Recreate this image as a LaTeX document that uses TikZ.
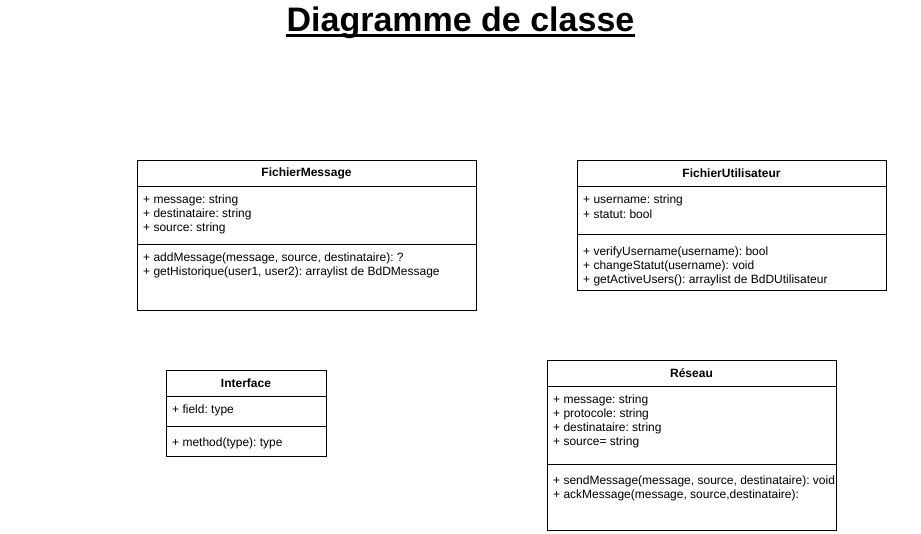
\documentclass[tikz,border=0pt]{standalone}
\usepackage{fontspec}
\setmainfont{Liberation Sans}
\frenchspacing
\begin{document}
\begin{tikzpicture}[x=1pt,y=-1pt,
  classbox/.style={draw=black, line width=1pt, inner sep=0, outer sep=0, rectangle},
  sep/.style={draw=black, line width=1pt},
  cname/.style={font=\fontsize{12}{14}\selectfont\bfseries, inner sep=0, anchor=center},
  member/.style={font=\fontsize{12}{14}\selectfont, inner sep=0, anchor=west},
  titletext/.style={font=\fontsize{34}{40}\selectfont\bfseries, inner sep=0, anchor=base},
  uline/.style={draw=black, line width=2.6pt}]
\useasboundingbox (0,0) rectangle (921,533);

% Title
\node[titletext] (title) at (460.5,31) {Diagramme de classe};
\draw[uline] (title.west |- 0,35.5) -- (title.east |- 0,35.5);

% FichierMessage
\node[classbox, minimum width=339pt, minimum height=150pt] (fm) at (306.5,235) {};
\draw[sep] (fm.west |- 0,186) -- (fm.east |- 0,186);
\draw[sep] (fm.west |- 0,244) -- (fm.east |- 0,244);
\node[cname] (fmn) at (306.5,173) {FichierMessage};
\node[member] (fm1) at (143,200.5) {+ message: string};
\node[member] (fm2) at (143,214.5) {+ destinataire: string};
\node[member] (fm3) at (143,228.5) {+ source: string};
\node[member] (fm4) at (143,258.5) {+ addMessage(message, source, destinataire): ?};
\node[member] (fm5) at (143,272.5) {+ getHistorique(user1, user2): arraylist de BdDMessage};

% FichierUtilisateur
\node[classbox, minimum width=309pt, minimum height=130pt] (fu) at (731.5,225) {};
\draw[sep] (fu.west |- 0,186) -- (fu.east |- 0,186);
\draw[sep] (fu.west |- 0,234) -- (fu.east |- 0,234);
\node[cname] (fun) at (731.5,173) {FichierUtilisateur};
\node[member] (fu1) at (583,200.5) {+ username: string};
\node[member] (fu2) at (583,214.5) {+ statut: bool};
\node[member] (fu3) at (583,252.5) {+ verifyUsername(username): bool};
\node[member] (fu4) at (583,266.5) {+ changeStatut(username): void};
\node[member] (fu5) at (583,280.5) {+ getActiveUsers(): arraylist de BdDUtilisateur};

% Interface
\node[classbox, minimum width=160pt, minimum height=86pt] (if) at (246,413) {};
\draw[sep] (if.west |- 0,396) -- (if.east |- 0,396);
\draw[sep] (if.west |- 0,426) -- (if.east |- 0,426);
\node[cname] (ifn) at (246,383) {Interface};
\node[member] (if1) at (172,410.5) {+ field: type};
\node[member] (if2) at (172,443.5) {+ method(type): type};

% Reseau
\node[classbox, minimum width=289pt, minimum height=170pt] (rs) at (691.5,445) {};
\draw[sep] (rs.west |- 0,386) -- (rs.east |- 0,386);
\draw[sep] (rs.west |- 0,464) -- (rs.east |- 0,464);
\node[cname] (rsn) at (691.5,373) {Réseau};
\node[member] (rs1) at (553,400.5) {+ message: string};
\node[member] (rs2) at (553,414.5) {+ protocole: string};
\node[member] (rs3) at (553,428.5) {+ destinataire: string};
\node[member] (rs4) at (553,442.5) {+ source= string};
\node[member] (rs5) at (553,481.5) {+ sendMessage(message, source, destinataire): void};
\node[member] (rs6) at (553,495.5) {+ ackMessage(message, source,destinataire):};
\end{tikzpicture}
\end{document}
